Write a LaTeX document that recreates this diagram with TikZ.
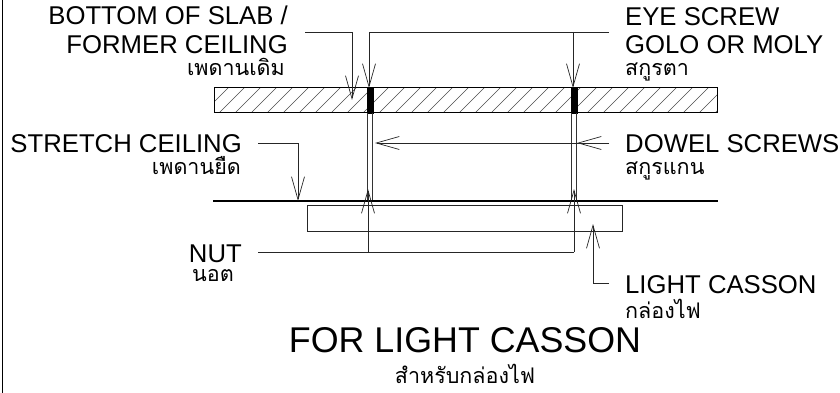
\documentclass[tikz,border=0pt]{standalone}
\usepackage{fontspec}
\setmainfont{Liberation Sans}
\newfontfamily\thaifont[Script=Thai]{Loma}
\usetikzlibrary{arrows.meta}
\tikzset{
	eng/.style={inner sep=0, font=\fontsize{25.7}{28}\selectfont},
	thai/.style={inner sep=0, font=\thaifont\fontsize{21.5}{23}\selectfont},
	leader/.style={line width=0.7pt, color=black!85},
	barb/.style={-{Straight Barb[length=23pt, width=13pt, line width=0.7pt]}},
}

\begin{document}
\begin{tikzpicture}[x=1pt, y=-1pt]
			%%%%% START %%%%%
			\useasboundingbox (0, 0) rectangle (840, 393);
			
			\draw[line width=1pt] (2, 0) -- (2, 393);
			
			% slab
			\begin{scope}
				\clip (214, 88) rectangle (717, 113);
				\foreach \i in {0, ..., 32}
					\draw[line width=0.5pt, color=black!70] (203 + 16 * \i, 113) -- (203 + 16 * \i + 30, 83);
			\end{scope}
			\draw[line width=1pt] (214, 88) rectangle (717, 113);
			\draw[fill=black] (367, 88) rectangle (373, 113);
			\draw[fill=black] (571, 88) rectangle (577, 113);
			
			% dowels
			\draw[line width=1pt, color=black!80] (367.5, 113) -- (367.5, 201);
			\draw[line width=1pt, color=black!80] (372.5, 113) -- (372.5, 201);
			\draw[line width=1pt, color=black!80] (571.5, 113) -- (571.5, 201);
			\draw[line width=1pt, color=black!80] (576.5, 113) -- (576.5, 201);
			
			% ceiling and box
			\draw[line width=2pt] (213, 201) -- (718, 201);
			\draw[line width=1pt, color=black!85] (307.5, 205.5) rectangle (622.5, 231.5);
			
			% labels
			\node[eng, anchor=base east] (slabone) at (288, 25) {BOTTOM OF SLAB /};
			\node[eng, anchor=base east] (slabtwo) at (288, 54) {FORMER CEILING};
			\node[thai, anchor=base east] (slabthai) at (285, 76) {เพดานเดิม};
			\node[eng, anchor=base east] (stretch) at (242, 152) {STRETCH CEILING};
			\node[thai, anchor=base east] (stretchthai) at (241, 174) {เพดานยืด};
			\node[eng, anchor=base east] (nut) at (242, 262) {NUT};
			\node[thai, anchor=base west] (nutthai) at (192, 281) {นอต};
			\node[eng, anchor=base west] (eyeone) at (625, 26) {EYE SCREW};
			\node[eng, anchor=base west] (eyetwo) at (625, 54) {GOLO OR MOLY};
			\node[thai, anchor=base west] (eyethai) at (625, 76) {สกูรตา};
			\node[eng, anchor=base west] (dowel) at (625, 152) {DOWEL SCREWS};
			\node[thai, anchor=base west] (dowelthai) at (625, 174) {สกูรแกน};
			\node[eng, anchor=base west] (casson) at (625, 293) {LIGHT CASSON};
			\node[thai, anchor=base west] (cassonthai) at (625, 318) {กล่องไฟ};
			\node[inner sep=0, anchor=base, font=\fontsize{35.8}{38}\selectfont] (title) at (465, 352) {FOR LIGHT CASSON};
			\node[thai, anchor=base] (titlethai) at (465, 383) {สำหรับกล่องไฟ};
			
			% leaders
			\coordinate (slabtip) at (352, 100);
			\coordinate (eyetipa) at (369, 88);
			\coordinate (eyetipb) at (573, 88);
			\coordinate (stretchtip) at (298, 201);
			\coordinate (doweltipa) at (375, 143);
			\coordinate (doweltipb) at (577, 143);
			\coordinate (nuttipa) at (368, 189);
			\coordinate (nuttipb) at (574, 189);
			\coordinate (cassontip) at (593, 224);
			
			\draw[leader, barb] (305, 32) -| (slabtip);
			\draw[leader, barb] (609, 32) -| (eyetipa);
			\draw[leader, barb] (573, 32) -- (eyetipb);
			\draw[leader, barb] (258, 143) -| (stretchtip);
			\draw[leader, barb] (609, 143) -- (doweltipa);
			\draw[leader, barb] (609, 143) -- (doweltipb);
			\draw[leader] (258, 252) -- (574, 252);
			\draw[leader, barb] (368, 252) -- (nuttipa);
			\draw[leader, barb] (574, 252) -- (nuttipb);
			\draw[leader, barb] (609, 283) -| (cassontip);
			
			%%%%% END %%%%%
		\end{tikzpicture}
\end{document}
